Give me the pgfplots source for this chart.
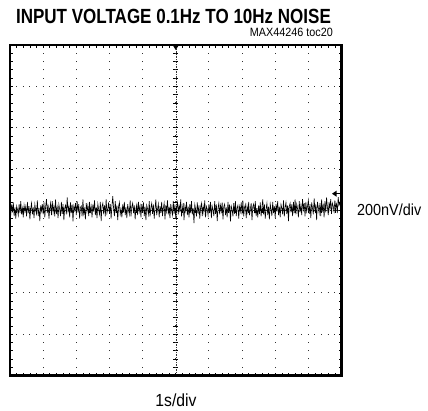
\documentclass[border=0pt]{standalone}
\usepackage{pgfplots}
\pgfplotsset{compat=1.18}
\usepackage{fontspec}
\setmainfont{Liberation Sans}
\newfontfamily\titlefont[FakeStretch=0.83]{Liberation Sans}
\newfontfamily\labfont[FakeStretch=0.9]{Liberation Sans}
\begin{document}
\begin{tikzpicture}
\useasboundingbox (0,0) rectangle (428pt,410pt);
% centre graticule lines (behind trace)
\begin{scope}[shift={(10pt,199.75pt)}, x=33.15pt, y=41.3125pt]
  \draw[black!80, line width=0.5pt, dash pattern=on 1.5pt off 1pt] (5,-4) -- (5,4);
  \draw[black!80, line width=0.5pt, dash pattern=on 1.5pt off 1pt] (0,0) -- (10,0);
  \foreach \t in {-3.8,-3.6,...,3.85} \draw[black, line width=0.6pt] ([xshift=-2.5pt]5,\t) -- ([xshift=2.5pt]5,\t);
  \foreach \t in {0.2,0.4,...,9.85} \draw[black, line width=0.6pt] ([yshift=-2.5pt]\t,0) -- ([yshift=2.5pt]\t,0);
\end{scope}
\begin{axis}[
  at={(10pt,34.5pt)}, anchor=south west, scale only axis,
  width=331.5pt, height=330.5pt,
  xmin=0, xmax=10, ymin=-4, ymax=4,
  xtick={0,...,10}, ytick={-4,...,4},
  minor x tick num=4, minor y tick num=4,
  xticklabels={}, yticklabels={},
  tick align=inside, xtick pos=both, ytick pos=both,
  major tick length=3pt, minor tick length=3pt,
  tick style={black, line width=0.6pt},
  axis line style={line width=2.5pt},
  grid=major,
  major x grid style={black!80, line width=1pt, dash pattern=on 1pt off 7.2625pt, dash phase=0.5pt},
  major y grid style={black!80, line width=1pt, dash pattern=on 1pt off 5.63pt, dash phase=0.5pt},
]
\addplot[black, line width=0.6pt, mark=none] table[row sep=\\, header=false, x expr=\coordindex/40, y index=0] {
0.03\\ -0.09\\ 0.14\\ -0.05\\ 0.19\\ -0.14\\ 0.07\\ -0.20\\ 0.10\\ 0.02\\ -0.12\\ 0.15\\ -0.07\\ 0.22\\ -0.10\\ 0.05\\ -0.17\\ 0.12\\ -0.03\\ 0.09\\
-0.15\\ 0.20\\ -0.07\\ 0.10\\ -0.22\\ 0.03\\ 0.17\\ -0.10\\ 0.07\\ -0.19\\ 0.14\\ 0.00\\ -0.09\\ 0.24\\ -0.14\\ 0.05\\ -0.26\\ 0.12\\ -0.02\\ 0.15\\
-0.10\\ 0.19\\ -0.17\\ 0.09\\ 0.27\\ -0.07\\ 0.14\\ -0.20\\ 0.03\\ 0.17\\ -0.12\\ 0.22\\ -0.05\\ 0.10\\ -0.15\\ 0.26\\ -0.09\\ 0.07\\ -0.19\\ 0.14\\
0.02\\ -0.14\\ 0.20\\ -0.09\\ 0.15\\ -0.24\\ 0.05\\ 0.12\\ -0.10\\ 0.31\\ -0.03\\ 0.09\\ -0.17\\ 0.19\\ -0.07\\ 0.14\\ -0.27\\ 0.10\\ 0.00\\ 0.17\\
-0.12\\ 0.22\\ -0.05\\ 0.15\\ -0.20\\ 0.07\\ 0.10\\ -0.15\\ 0.26\\ -0.09\\ 0.03\\ -0.22\\ 0.17\\ -0.02\\ 0.12\\ -0.14\\ 0.20\\ -0.07\\ 0.09\\ -0.17\\
0.14\\ -0.03\\ 0.24\\ -0.12\\ 0.07\\ -0.19\\ 0.15\\ 0.02\\ -0.10\\ 0.20\\ -0.26\\ 0.09\\ 0.17\\ -0.05\\ 0.12\\ -0.15\\ 0.27\\ -0.07\\ 0.03\\ 0.19\\
-0.09\\ 0.15\\ -0.20\\ 0.10\\ 0.34\\ 0.05\\ -0.14\\ 0.22\\ -0.07\\ 0.12\\ -0.24\\ 0.09\\ 0.19\\ -0.10\\ 0.03\\ -0.17\\ 0.14\\ -0.05\\ 0.20\\ -0.12\\
0.07\\ -0.19\\ 0.15\\ 0.00\\ -0.10\\ 0.24\\ -0.15\\ 0.09\\ 0.17\\ -0.07\\ 0.12\\ -0.22\\ 0.05\\ 0.14\\ -0.12\\ 0.20\\ -0.03\\ 0.10\\ -0.17\\ 0.15\\
-0.05\\ 0.19\\ -0.14\\ 0.09\\ -0.24\\ 0.12\\ 0.03\\ -0.10\\ 0.22\\ -0.15\\ 0.07\\ 0.17\\ -0.09\\ 0.14\\ -0.20\\ 0.05\\ 0.26\\ -0.12\\ 0.02\\ 0.15\\
-0.17\\ 0.10\\ -0.07\\ 0.20\\ -0.14\\ 0.05\\ 0.17\\ -0.22\\ 0.12\\ -0.03\\ 0.24\\ -0.10\\ 0.09\\ -0.19\\ 0.15\\ 0.00\\ -0.12\\ 0.22\\ -0.09\\ 0.14\\
-0.20\\ 0.07\\ 0.19\\ -0.10\\ 0.14\\ -0.05\\ 0.26\\ -0.15\\ 0.03\\ 0.17\\ -0.24\\ 0.10\\ -0.02\\ 0.20\\ -0.12\\ 0.09\\ -0.17\\ 0.15\\ -0.07\\ 0.22\\
-0.10\\ 0.05\\ -0.31\\ 0.14\\ 0.02\\ -0.15\\ 0.19\\ -0.09\\ 0.12\\ -0.20\\ 0.07\\ 0.17\\ -0.14\\ 0.10\\ -0.05\\ 0.24\\ -0.17\\ 0.09\\ 0.03\\ -0.12\\
0.15\\ -0.07\\ 0.20\\ -0.19\\ 0.10\\ 0.00\\ -0.14\\ 0.22\\ -0.09\\ 0.14\\ -0.26\\ 0.05\\ 0.17\\ -0.10\\ 0.12\\ -0.03\\ 0.19\\ -0.22\\ 0.09\\ 0.15\\
-0.12\\ 0.07\\ -0.17\\ 0.20\\ -0.05\\ 0.14\\ -0.27\\ 0.10\\ 0.02\\ -0.15\\ 0.17\\ -0.09\\ 0.22\\ -0.14\\ 0.05\\ 0.12\\ -0.20\\ 0.09\\ -0.03\\ 0.19\\
-0.10\\ 0.24\\ -0.15\\ 0.07\\ 0.14\\ -0.19\\ 0.10\\ -0.05\\ 0.20\\ -0.12\\ 0.03\\ 0.17\\ -0.24\\ 0.09\\ 0.15\\ -0.07\\ 0.22\\ -0.14\\ 0.05\\ -0.17\\
0.12\\ -0.09\\ 0.19\\ -0.15\\ 0.07\\ 0.26\\ -0.10\\ 0.14\\ -0.20\\ 0.03\\ 0.17\\ -0.12\\ 0.09\\ -0.22\\ 0.15\\ 0.02\\ -0.14\\ 0.20\\ -0.07\\ 0.10\\
-0.19\\ 0.15\\ -0.03\\ 0.22\\ -0.12\\ 0.09\\ -0.17\\ 0.14\\ 0.05\\ -0.10\\ 0.24\\ -0.15\\ 0.07\\ 0.19\\ -0.09\\ 0.12\\ -0.26\\ 0.10\\ 0.17\\ -0.05\\
0.14\\ -0.14\\ 0.20\\ -0.07\\ 0.26\\ -0.10\\ 0.15\\ 0.03\\ -0.17\\ 0.22\\ -0.05\\ 0.12\\ -0.12\\ 0.27\\ 0.02\\ 0.17\\ -0.15\\ 0.20\\ -0.03\\ 0.10\\
0.24\\ -0.09\\ 0.15\\ -0.19\\ 0.19\\ 0.05\\ -0.10\\ 0.29\\ -0.03\\ 0.14\\ -0.24\\ 0.20\\ 0.07\\ -0.07\\ 0.17\\ -0.14\\ 0.26\\ 0.00\\ 0.12\\ -0.17\\
0.22\\ -0.05\\ 0.31\\ 0.07\\ -0.12\\ 0.20\\ 0.03\\ 0.27\\ -0.09\\ 0.17\\ 0.10\\ -0.03\\ 0.24\\ 0.05\\ 0.15\\ -0.07\\ 0.32\\ 0.12\\ 0.19\\ 0.09\\
0.14\\
};
\end{axis}
% trigger and level markers
\begin{scope}[shift={(10pt,199.75pt)}, x=33.15pt, y=41.3125pt]
  \fill[black] ([yshift=-1pt]5,4) ++(-2.5pt,0) -- ++(5pt,0) -- ++(-2.5pt,-4pt) -- cycle;
  \fill[black] ([xshift=-9.5pt]10,0.4) -- ++(4.5pt,3pt) -- ++(0,-6pt) -- cycle;
  \draw[black, line width=1.2pt] ([xshift=-5.5pt]10,0.4) -- ([xshift=-1pt]10,0.4);
\end{scope}
\node[anchor=base, inner sep=0] at (173.5pt,386pt) {\titlefont\bfseries\fontsize{20.5}{24}\selectfont INPUT VOLTAGE 0.1Hz TO 10Hz NOISE};
\node[anchor=base east, inner sep=0] at (333pt,373pt) {\labfont\fontsize{12}{14}\selectfont MAX44246 toc20};
\node[anchor=base west, inner sep=0] at (357pt,194pt) {\labfont\fontsize{16}{19}\selectfont 200nV/div};
\node[anchor=base, inner sep=0] at (176pt,4pt) {\labfont\fontsize{17.5}{20}\selectfont 1s/div};
\end{tikzpicture}
\end{document}
